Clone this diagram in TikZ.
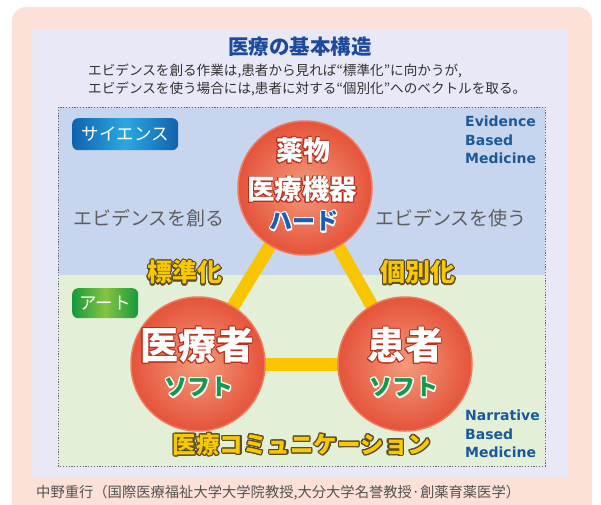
\documentclass[tikz,border=0pt]{standalone}
\usepackage{fontspec}
\setmainfont{Noto Sans CJK JP}
\newfontfamily\heavy{Noto Sans CJK JP}[UprightFont=* Black, BoldFont=* Black]
\newfontfamily\ebmfont{DejaVu Sans}
\usepackage[copies]{contour}
\contournumber{16}
\definecolor{pinkbg}{HTML}{FCE1D8}
\definecolor{lavbg}{HTML}{E9E8F6}
\definecolor{bluebg}{HTML}{C7D5EE}
\definecolor{greenbg}{HTML}{E4EFD8}
\definecolor{titleblue}{HTML}{1D4A9C}
\definecolor{ebmblue}{HTML}{1A5A9A}
\definecolor{baryellow}{HTML}{F7C600}
\definecolor{lblyellow}{HTML}{F8C800}
\definecolor{lbloutline}{HTML}{5B4B25}
\definecolor{ballin}{HTML}{F39A7A}
\definecolor{ballout}{HTML}{E5533B}
\definecolor{ballrim}{HTML}{F07A5A}
\definecolor{balltext}{HTML}{B8301E}
\definecolor{hardblue}{HTML}{1A5DB5}
\definecolor{softgreen}{HTML}{12994A}
\definecolor{sciblue}{HTML}{1262AE}
\definecolor{scilight}{HTML}{2AA8E2}
\definecolor{artgreen}{HTML}{159A3C}
\definecolor{artlight}{HTML}{86C441}
\definecolor{graytext}{HTML}{5E5E5E}
\definecolor{darktext}{HTML}{333333}
\pgfdeclarelayer{bg}
\pgfdeclarelayer{mid}
\pgfsetlayers{bg,mid,main}
\tikzset{
  ball/.style={circle, minimum size=134pt, inner sep=0pt, inner color=ballin, outer color=ballout, draw=ballrim, line width=1.5pt},
  bar/.style={draw=baryellow, line width=13pt},
  badge/.style={rounded corners=6pt, minimum height=32pt, inner sep=0pt, text=white, font=\fontsize{17.5}{17.5}\selectfont},
  balltxt/.style={inner sep=0pt, text=white, font=\heavy\fontsize{#1}{#1}\selectfont},
  subtxt/.style={inner sep=0pt, font=\heavy\fontsize{#1}{#1}\selectfont},
  lbl/.style={inner sep=0pt, text=lblyellow, font=\heavy\fontsize{#1}{#1}\selectfont},
  ebm/.style={inner sep=0pt, anchor=west, text=ebmblue, font=\ebmfont\bfseries\fontsize{14}{18.5}\selectfont, align=left},
  evid/.style={inner sep=0pt, text=graytext, font=\fontsize{19}{19}\selectfont},
}
\begin{document}
\begin{tikzpicture}[x=1pt,y=-1pt]
\useasboundingbox (0,0) rectangle (601,504);
\begin{pgfonlayer}{bg}
  \begin{scope}
    \clip (0,0) rectangle (601,504);
    \fill[white] (0,0) rectangle (601,504);
    \fill[pinkbg, rounded corners=14pt] (12,7) rectangle (592,530);
  \end{scope}
  \fill[lavbg] (32,30) rectangle (568,477);
  \fill[bluebg] (58,107) rectangle (545,275);
  \fill[greenbg] (58,275) rectangle (545,466);
  \draw[gray!80!black, line width=0.9pt, dash pattern=on 1.2pt off 1.6pt] (58,107) rectangle (545,466);
\end{pgfonlayer}

% title and subtitle
\node[inner sep=0pt, text=titleblue, font=\heavy\fontsize{20.5}{20.5}\selectfont] (title) at (300,47) {医療の基本構造};
\node[inner sep=0pt, anchor=west, text=darktext, font=\fontsize{13.6}{17.5}\selectfont, align=left] (sub) at (88,80)
  {エビデンスを創る作業は,患者から見れば“標準化”に向かうが,\\エビデンスを使う場合には,患者に対する“個別化”へのベクトルを取る。};

% badges
\node[badge, anchor=north west, minimum width=106pt, left color=sciblue, right color=sciblue, middle color=scilight] (sci) at (72,118) {サイエンス};
\node[badge, anchor=north west, minimum width=66pt, minimum height=30pt, left color=artgreen, right color=artgreen, middle color=artlight] (art) at (72,288) {アート};

% balls
\node[ball] (top) at (305,188) {};
\node[ball] (left) at (198,364) {};
\node[ball] (right) at (405,364) {};

\begin{pgfonlayer}{mid}
  \draw[bar] (top.center) -- (left.center);
  \draw[bar] (top.center) -- (right.center);
  \draw[bar] (left.center) -- (right.center);
\end{pgfonlayer}

\contourlength{0.9pt}
\node[balltxt=27] (t1) at (303,151) {\contour{balltext}{薬物}};
\node[balltxt=27.5] (t2) at (302,190) {\contour{balltext}{医療機器}};
\contourlength{1.3pt}
\node[subtxt=23] (t3) at (304,222) {\contour{white}{\textcolor{hardblue}{ハード}}};

\contourlength{1pt}
\node[balltxt=38] (l1) at (197,346) {\contour{balltext}{医療者}};
\node[balltxt=38] (r1) at (405,346) {\contour{balltext}{患者}};
\contourlength{1.3pt}
\node[subtxt=23] (l2) at (199,388) {\contour{white}{\textcolor{softgreen}{ソフト}}};
\node[subtxt=23] (r2) at (404,388) {\contour{white}{\textcolor{softgreen}{ソフト}}};

% evidence texts
\node[evid] (create) at (149,218) {エビデンスを創る};
\node[evid] (use) at (451,218) {エビデンスを使う};

% yellow labels
\contourlength{1.2pt}
\node[lbl=25] (std) at (185,273) {\contour{lbloutline}{標準化}};
\node[lbl=25] (ind) at (418,273) {\contour{lbloutline}{個別化}};
\node[lbl=23.5] (comm) at (302,445) {\contour{lbloutline}{医療コミュニケーション}};

% EBM / NBM
\node[ebm] (ebmtxt) at (465,140) {Evidence\\Based\\Medicine};
\node[ebm] (nbmtxt) at (465,434) {Narrative\\Based\\Medicine};

% footer
\node[inner sep=0pt, anchor=west, text=darktext!85, font=\fontsize{14.3}{14.3}\selectfont] (foot) at (36,493)
  {中野重行（国際医療福祉大学大学院教授,大分大学名誉教授·創薬育薬医学）};
\end{tikzpicture}
\end{document}
